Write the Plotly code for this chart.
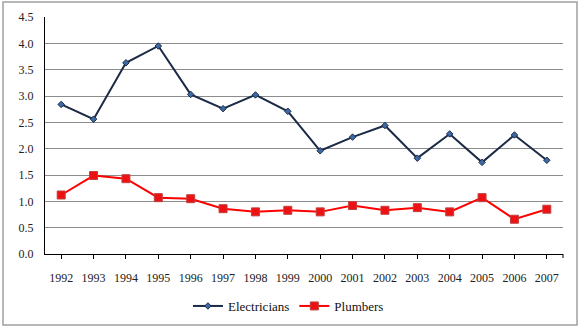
import plotly.graph_objects as go

years = [str(y) for y in range(1992, 2008)]
electricians = [2.84, 2.56, 3.63, 3.95, 3.03, 2.76, 3.02, 2.71,
                1.96, 2.22, 2.44, 1.82, 2.28, 1.74, 2.26, 1.78]
plumbers = [1.12, 1.49, 1.43, 1.07, 1.05, 0.86, 0.80, 0.83,
            0.80, 0.92, 0.83, 0.88, 0.80, 1.07, 0.66, 0.85]
y_ticks = [0.0, 0.5, 1.0, 1.5, 2.0, 2.5, 3.0, 3.5, 4.0, 4.5]

W, H = 580, 328
L, R, T, B = 45, 17, 17, 74
pw, ph = W - L - R, H - T - B

SERIF = "Liberation Serif"
font = dict(family=SERIF, size=12, color="#222")

fig = go.Figure()
fig.add_trace(go.Scatter(
    x=years, y=electricians, name="Electricians", mode="lines+markers",
    line=dict(color="#1b2a45", width=2),
    marker=dict(symbol="diamond", size=5, color="#3d6aa6",
                line=dict(color="#1b2a45", width=1)),
))
fig.add_trace(go.Scatter(
    x=years, y=plumbers, name="Plumbers", mode="lines+markers",
    line=dict(color="#ff0000", width=2),
    marker=dict(symbol="square", size=8, color="#ee1111",
                line=dict(color="#c04040", width=1)),
))

# outer chart frame
fig.add_shape(type="rect", xref="paper", yref="paper",
              x0=(3 - L) / pw, x1=(577 - L) / pw,
              y0=(H - B - 325) / ph, y1=(H - B - 2) / ph,
              line=dict(color="#a0a0a0", width=1.5), fillcolor="rgba(0,0,0,0)")
# closing tick at the right end of the category axis
fig.add_shape(type="line", xref="paper", yref="paper",
              x0=1, x1=1, y0=0, y1=-4 / ph,
              line=dict(color="#000", width=1))

fig.update_layout(
    width=W, height=H,
    margin=dict(l=L, r=R, t=T, b=B, pad=0, autoexpand=False),
    paper_bgcolor="white", plot_bgcolor="white",
    font=font,
    showlegend=True,
    legend=dict(orientation="h", x=0.47, xanchor="center",
                y=-(306 - (H - B)) / ph, yanchor="middle",
                font=dict(family=SERIF, size=13, color="#111"),
                itemwidth=30, tracegroupgap=0),
    xaxis=dict(type="category", range=[-0.5, len(years) - 0.5],
               showgrid=False, showline=True, linecolor="#000", linewidth=1,
               ticks="outside", ticklen=4, tickcolor="#000",
               tickfont=font, ticklabelstandoff=9, zeroline=False),
    yaxis=dict(range=[0, 4.5], tickvals=y_ticks,
               ticktext=[f"{v:.1f}" for v in y_ticks],
               showgrid=True, gridcolor="#8c8c8c", gridwidth=1,
               showline=True, linecolor="#000", linewidth=1,
               ticks="", tickfont=font, zeroline=False, ticklabelstandoff=8),
)

fig.write_html("out.html")
